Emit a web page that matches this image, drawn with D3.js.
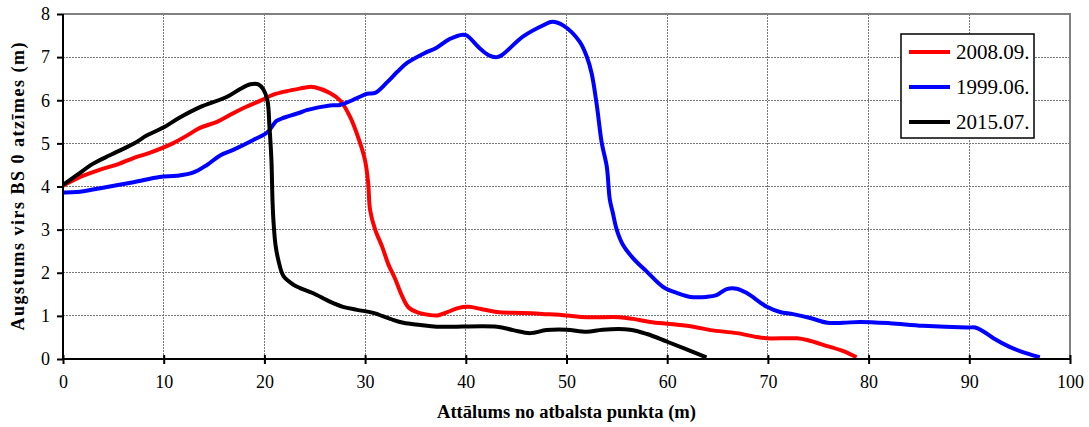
<!DOCTYPE html>
<html>
<head>
<meta charset="utf-8">
<script src="https://cdnjs.cloudflare.com/ajax/libs/d3/7.8.5/d3.min.js"></script>
<style>
  html, body { margin: 0; padding: 0; background: #fff; }
  svg { display: block; }
  svg text { font-family: "Liberation Serif", "Times New Roman", serif; }
</style>
</head>
<body>
<div id="chart"></div>
<script>
// Series data: [distance (m), height (m)]
const red2008 = [
  [0, 4.02], [1.5, 4.2], [3.7, 4.39], [5.5, 4.52], [7, 4.66], [8.6, 4.78], [10.9, 5.0],
  [12.3, 5.18], [13.6, 5.36], [15.3, 5.5], [16.9, 5.7], [18.2, 5.85], [19.6, 5.99],
  [20.9, 6.13], [22.2, 6.21], [23.5, 6.27], [24.5, 6.31], [25.0, 6.3], [26.5, 6.17],
  [27.5, 6.0], [28.5, 5.62], [29.5, 5.01], [30.0, 4.6], [30.3, 4.1], [30.5, 3.45],
  [31.0, 3.0], [31.7, 2.6], [32.3, 2.2], [33.0, 1.85], [33.6, 1.5], [34.3, 1.2],
  [35.2, 1.08], [36.4, 1.02], [37.2, 1.01], [38.1, 1.08], [39.2, 1.18], [40.3, 1.21],
  [41.5, 1.16], [43.1, 1.09], [44.7, 1.07], [46.5, 1.06], [48, 1.04], [50, 1.01],
  [52, 0.97], [55.3, 0.97], [56.6, 0.93], [58.3, 0.86], [60.3, 0.81], [62.6, 0.75],
  [64.3, 0.67], [66.9, 0.6], [68.9, 0.51], [69.9, 0.48], [72.9, 0.48], [73.9, 0.44],
  [75.9, 0.3], [77.5, 0.18], [78.8, 0.04]
];

const blue1999 = [
  [0, 3.86], [1.4, 3.87], [3.7, 3.96], [7, 4.1], [9.6, 4.22], [11.3, 4.25], [12.9, 4.32],
  [14.3, 4.5], [15.6, 4.72], [16.9, 4.85], [18.9, 5.08], [20.3, 5.26], [21.2, 5.52],
  [22.0, 5.6], [23.5, 5.71], [24.2, 5.77], [26.5, 5.88], [27.5, 5.89], [29.2, 6.05],
  [30.2, 6.15], [31.0, 6.17], [32.2, 6.42], [33.2, 6.66], [34.2, 6.87], [35.8, 7.08],
  [37.1, 7.22], [38.4, 7.42], [39.7, 7.52], [40.1, 7.5], [41.4, 7.2], [42.3, 7.04],
  [43.1, 7.0], [43.6, 7.05], [45.7, 7.48], [47.7, 7.74], [48.6, 7.82], [49.7, 7.73],
  [51.3, 7.36], [52.0, 7.02], [52.5, 6.62], [53.0, 5.9], [53.5, 5.01], [54.0, 4.46],
  [54.3, 3.7], [54.6, 3.39], [55.0, 2.99], [55.6, 2.65], [56.6, 2.34], [58.0, 2.02],
  [59.6, 1.67], [61.0, 1.53], [62.3, 1.44], [63.9, 1.44], [64.9, 1.48], [65.9, 1.62],
  [66.9, 1.63], [67.9, 1.53], [69.9, 1.21], [71.2, 1.09], [72.5, 1.04], [74.2, 0.95],
  [75.9, 0.84], [77.5, 0.84], [79.1, 0.86], [82.1, 0.83], [85.4, 0.77], [89.8, 0.73],
  [90.6, 0.73], [91.4, 0.64], [92.4, 0.48], [94.0, 0.28], [95.7, 0.13], [97.0, 0.04]
];

const black2015 = [
  [0, 4.04], [1.4, 4.27], [3.0, 4.53], [4.7, 4.73], [7.0, 4.99], [8.3, 5.18], [9.9, 5.36],
  [11.6, 5.6], [13.6, 5.84], [16.3, 6.08], [17.6, 6.26], [18.6, 6.37], [19.4, 6.37],
  [19.9, 6.25], [20.3, 6.0], [20.5, 5.4], [20.7, 4.6], [20.8, 3.7], [20.9, 3.2],
  [21.1, 2.65], [21.4, 2.28], [21.9, 1.92], [22.9, 1.72], [23.5, 1.65], [24.8, 1.53],
  [26.5, 1.33], [27.8, 1.21], [29.2, 1.14], [30.8, 1.07], [32.5, 0.93], [33.8, 0.84],
  [35.5, 0.79], [37.1, 0.75], [43.1, 0.75], [44.7, 0.67], [46.4, 0.6], [48.0, 0.67],
  [50.0, 0.68], [52.0, 0.63], [53.6, 0.68], [56.3, 0.68], [58.0, 0.58], [60.0, 0.4],
  [63.9, 0.04]
];

const seriesNames = ["2008.09.", "1999.06.", "2015.07."];
const seriesColors = ["#ff0000", "#0000ff", "#000000"];
const seriesData = [red2008, blue1999, black2015];

const xTicks = [0, 10, 20, 30, 40, 50, 60, 70, 80, 90, 100];
const yTicks = [0, 1, 2, 3, 4, 5, 6, 7, 8];

const xTitle = "Attālums no atbalsta punkta (m)";
const yTitle = "Augstums virs BS 0 atzīmes (m)";

const width = 1089, height = 427;
const margin = { left: 63, right: 19, top: 14, bottom: 68 };
const plotW = width - margin.left - margin.right;
const plotH = height - margin.top - margin.bottom;

const svg = d3.select("#chart").append("svg")
  .attr("width", width)
  .attr("height", height);

const x = d3.scaleLinear().domain([0, 100]).range([0, plotW]);
const y = d3.scaleLinear().domain([0, 8]).range([plotH, 0]);

const g = svg.append("g").attr("transform", `translate(${margin.left},${margin.top})`);

// grid
g.append("g")
  .selectAll("line")
  .data(xTicks.slice(1, -1))
  .join("line")
  .attr("x1", d => x(d)).attr("x2", d => x(d))
  .attr("y1", 0).attr("y2", plotH)
  .attr("stroke", "#777").attr("stroke-width", 1)
  .attr("stroke-dasharray", "2,1")
  .attr("shape-rendering", "crispEdges");

g.append("g")
  .selectAll("line")
  .data(yTicks.slice(1, -1))
  .join("line")
  .attr("x1", 0).attr("x2", plotW)
  .attr("y1", d => y(d)).attr("y2", d => y(d))
  .attr("stroke", "#777").attr("stroke-width", 1)
  .attr("stroke-dasharray", "2,1")
  .attr("shape-rendering", "crispEdges");

// top and right border
g.append("path")
  .attr("d", `M0,${y(8)}H${x(100)}V${y(0)}`)
  .attr("fill", "none")
  .attr("stroke", "#808080")
  .attr("stroke-width", 2);

// series
const line = d3.line()
  .x(d => x(d[0]))
  .y(d => y(d[1]))
  .curve(d3.curveCatmullRom.alpha(0.5));

g.append("g")
  .selectAll("path")
  .data(seriesData)
  .join("path")
  .attr("d", line)
  .attr("fill", "none")
  .attr("stroke", (d, i) => seriesColors[i])
  .attr("stroke-width", 4)
  .attr("stroke-linejoin", "round");

// axes
const xAxis = g.append("g")
  .attr("transform", `translate(0,${plotH})`)
  .call(d3.axisBottom(x).tickValues(xTicks).tickSize(0).tickPadding(16))
  .attr("font-family", "Liberation Serif, serif")
  .attr("font-size", 18);
xAxis.select(".domain").remove();
xAxis.append("line")
  .attr("x1", 0).attr("x2", plotW).attr("stroke", "#000").attr("stroke-width", 2);
xAxis.selectAll(".tick").append("line")
  .attr("y1", -4).attr("y2", 5).attr("stroke", "#000").attr("stroke-width", 2);
xAxis.selectAll(".tick text").attr("fill", "#000");

const yAxis = g.append("g")
  .call(d3.axisLeft(y).tickValues(yTicks).tickSize(0).tickPadding(13))
  .attr("font-family", "Liberation Serif, serif")
  .attr("font-size", 18);
yAxis.select(".domain").remove();
yAxis.append("line")
  .attr("y1", 0).attr("y2", plotH).attr("stroke", "#000").attr("stroke-width", 2);
yAxis.selectAll(".tick").append("line")
  .attr("x1", -6).attr("x2", 0).attr("stroke", "#000").attr("stroke-width", 2);
yAxis.selectAll(".tick text").attr("fill", "#000");

// axis titles
svg.append("text")
  .attr("x", margin.left + plotW / 2)
  .attr("y", 418)
  .attr("text-anchor", "middle")
  .style("font-weight", "bold")
  .style("font-size", "18px")
  .attr("textLength", 259)
  .attr("lengthAdjust", "spacingAndGlyphs")
  .text(xTitle);

svg.append("text")
  .attr("transform", `translate(24,${margin.top + plotH / 2}) rotate(-90)`)
  .attr("text-anchor", "middle")
  .style("font-weight", "bold")
  .style("font-size", "18px")
  .attr("textLength", 288)
  .attr("lengthAdjust", "spacing")
  .text(yTitle);

// legend
const legend = svg.append("g").attr("transform", "translate(901,34)");
legend.append("rect")
  .attr("width", 133).attr("height", 104)
  .attr("fill", "#fff").attr("stroke", "#000").attr("stroke-width", 1.5);
const items = legend.selectAll("g.item")
  .data(seriesNames)
  .join("g")
  .attr("class", "item")
  .attr("transform", (d, i) => `translate(0,${18 + i * 35})`);
items.append("line")
  .attr("x1", 8).attr("x2", 49)
  .attr("stroke", (d, i) => seriesColors[i])
  .attr("stroke-width", 4);
items.append("text")
  .attr("x", 55).attr("dy", "0.35em")
  .style("font-size", "21px")
  .text(d => d);
</script>
</body>
</html>
